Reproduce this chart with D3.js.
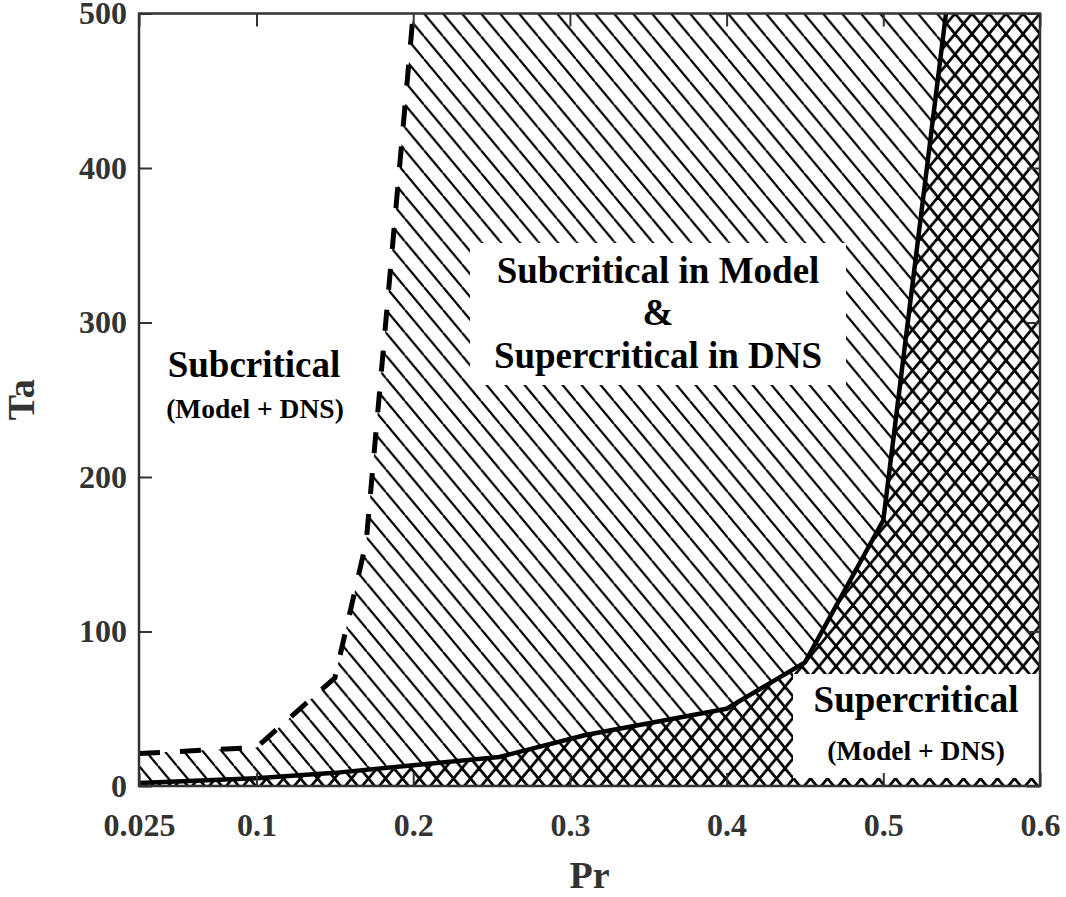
<!DOCTYPE html>
<html>
<head>
<meta charset="utf-8">
<script src="https://cdn.jsdelivr.net/npm/d3@7"></script>
<style>
  body { margin: 0; background: #fff; }
  text { font-family: "Liberation Serif", "Times New Roman", serif; font-weight: bold; }
</style>
</head>
<body>
<div id="chart"></div>
<script>
// Model boundary (dashed) and DNS boundary (solid)
var modelPr = [0.025, 0.1, 0.15, 0.17, 0.2];
var modelTa = [21, 25, 70, 158, 500];
var dnsPr = [0.025, 0.1, 0.15, 0.2, 0.255, 0.31, 0.4, 0.45, 0.5, 0.54];
var dnsTa = [2, 5, 8.5, 13.5, 18.8, 33, 50, 80, 172, 500];

var xTicks = [0.025, 0.1, 0.2, 0.3, 0.4, 0.5, 0.6];
var xTickLabels = ["0.025", "0.1", "0.2", "0.3", "0.4", "0.5", "0.6"];
var yTicks = [0, 100, 200, 300, 400, 500];

var W = 1066, H = 897;
var pL = 139, pR = 1040, pT = 13.5, pB = 786;

var x = d3.scaleLinear().domain([0.025, 0.6]).range([pL, pR]);
var y = d3.scaleLinear().domain([0, 500]).range([pB, pT]);

var svg = d3.select("#chart").append("svg")
  .attr("width", W).attr("height", H);

var defs = svg.append("defs");

defs.append("clipPath").attr("id", "plotclip")
  .append("rect")
  .attr("x", pL).attr("y", pT)
  .attr("width", pR - pL).attr("height", pB - pT);

// hatch patterns
function hatch(id, w, h, cross, sw) {
  var p = defs.append("pattern")
    .attr("id", id)
    .attr("patternUnits", "userSpaceOnUse")
    .attr("x", pL).attr("y", pT)
    .attr("width", w).attr("height", h);
  [-1, 0, 1].forEach(function(k) {
    p.append("line")
      .attr("x1", k * w).attr("y1", 0).attr("x2", (k + 1) * w).attr("y2", h)
      .attr("stroke", "#000").attr("stroke-width", sw);
    if (cross) {
      p.append("line")
        .attr("x1", (k + 1) * w).attr("y1", 0).attr("x2", k * w).attr("y2", h)
        .attr("stroke", "#000").attr("stroke-width", sw);
    }
  });
}
hatch("diag", 19, 22.8, false, 2.2);
hatch("cross", 17, 20.4, true, 2.7);

var model = modelPr.map(function(d, i) { return [d, modelTa[i]]; });
var dns = dnsPr.map(function(d, i) { return [d, dnsTa[i]]; });

var line = d3.line()
  .x(function(d) { return x(d[0]); })
  .y(function(d) { return y(d[1]); });

var plot = svg.append("g").attr("clip-path", "url(#plotclip)");

// region between model and DNS boundaries
var between = model.concat([[0.54, 500]]).concat(dns.slice().reverse());
plot.append("path")
  .attr("d", line(between) + "Z")
  .attr("fill", "url(#diag)");

// region below DNS boundary
var below = dns.concat([[0.6, 500], [0.6, 0], [0.025, 0]]);
plot.append("path")
  .attr("d", line(below) + "Z")
  .attr("fill", "url(#cross)");

plot.append("path")
  .attr("d", line(model))
  .attr("fill", "none")
  .attr("stroke", "#000")
  .attr("stroke-width", 5)
  .attr("stroke-dasharray", "21,20");

plot.append("path")
  .attr("d", line(dns))
  .attr("fill", "none")
  .attr("stroke", "#000")
  .attr("stroke-width", 4.5)
  .attr("stroke-linejoin", "round");

// annotations
var ann = svg.append("g");

ann.append("text").attr("x", 254).attr("y", 377)
  .attr("text-anchor", "middle").attr("font-size", 37).text("Subcritical");
ann.append("text").attr("x", 255).attr("y", 418)
  .attr("text-anchor", "middle").attr("font-size", 27.5).text("(Model + DNS)");

ann.append("rect").attr("x", 470).attr("y", 243).attr("width", 376).attr("height", 142)
  .attr("fill", "#fff");
ann.append("text").attr("x", 658).attr("y", 283)
  .attr("text-anchor", "middle").attr("font-size", 37).text("Subcritical in Model");
ann.append("text").attr("x", 658).attr("y", 325)
  .attr("text-anchor", "middle").attr("font-size", 37).text("&");
ann.append("text").attr("x", 658).attr("y", 368)
  .attr("text-anchor", "middle").attr("font-size", 37).text("Supercritical in DNS");

ann.append("rect").attr("x", 793).attr("y", 674).attr("width", pR - 793).attr("height", 104)
  .attr("fill", "#fff");
ann.append("text").attr("x", 916).attr("y", 712)
  .attr("text-anchor", "middle").attr("font-size", 37).text("Supercritical");
ann.append("text").attr("x", 916).attr("y", 760)
  .attr("text-anchor", "middle").attr("font-size", 27.5).text("(Model + DNS)");

// frame with inward ticks on all sides
var axisColor = "#333";
var tl = 13;
svg.append("g")
  .attr("transform", "translate(0," + pB + ")")
  .call(d3.axisBottom(x).tickValues(xTicks).tickSize(-tl).tickPadding(tl + 14)
    .tickFormat(function(d, i) { return xTickLabels[i]; }))
  .call(function(g) {
    g.select(".domain").remove();
    g.selectAll("line").attr("stroke", axisColor).attr("stroke-width", 2);
    g.selectAll("text").attr("font-size", 32).attr("fill", axisColor)
      .attr("font-family", "Liberation Serif").attr("font-weight", "bold");
  });
svg.append("g")
  .attr("transform", "translate(0," + pT + ")")
  .call(d3.axisTop(x).tickValues(xTicks).tickSize(-tl).tickFormat(""))
  .call(function(g) {
    g.select(".domain").remove();
    g.selectAll("line").attr("stroke", axisColor).attr("stroke-width", 2);
  });
svg.append("g")
  .attr("transform", "translate(" + pL + ",0)")
  .call(d3.axisLeft(y).tickValues(yTicks).tickSize(-tl).tickPadding(12))
  .call(function(g) {
    g.select(".domain").remove();
    g.selectAll("line").attr("stroke", axisColor).attr("stroke-width", 2);
    g.selectAll("text").attr("font-size", 32).attr("fill", axisColor)
      .attr("font-family", "Liberation Serif").attr("font-weight", "bold");
  });
svg.append("g")
  .attr("transform", "translate(" + pR + ",0)")
  .call(d3.axisRight(y).tickValues(yTicks).tickSize(-tl).tickFormat(""))
  .call(function(g) {
    g.select(".domain").remove();
    g.selectAll("line").attr("stroke", axisColor).attr("stroke-width", 2);
  });

svg.append("rect")
  .attr("x", pL).attr("y", pT)
  .attr("width", pR - pL).attr("height", pB - pT)
  .attr("fill", "none").attr("stroke", axisColor).attr("stroke-width", 2.5);

// axis titles
svg.append("text").attr("x", (pL + pR) / 2).attr("y", 888)
  .attr("text-anchor", "middle").attr("font-size", 38).attr("fill", axisColor).text("Pr");
svg.append("text")
  .attr("transform", "translate(34," + (pT + pB) / 2 + ") rotate(-90)")
  .attr("text-anchor", "middle").attr("font-size", 38).attr("fill", axisColor).text("Ta");
</script>
</body>
</html>
